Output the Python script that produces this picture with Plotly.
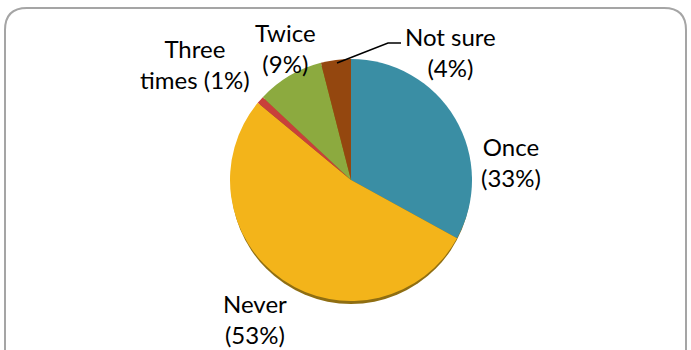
import plotly.graph_objects as go

# Survey answers, clockwise from 12 o'clock
labels = ["Once", "Never", "Three times", "Twice", "Not sure"]
values = [33, 53, 1, 9, 4]
colors = ["#3A8EA4", "#F3B41A", "#C8403B", "#8CAA3F", "#94470F"]

# Two text lines per slice label
label_lines = [
    ("Once", f"({values[0]}%)"),
    ("Never", f"({values[1]}%)"),
    ("Three", f"times ({values[2]}%)"),
    ("Twice", f"({values[3]}%)"),
    ("Not sure", f"({values[4]}%)"),
]
# Label block centres in pixels
label_pos = [(511, 162), (255, 319), (195, 64), (285, 48), (450, 52)]

W, H = 691, 350
cx, cy, r = 351, 180, 121


def px(x):
    return x / W


def py(y):
    return 1 - y / H


fig = go.Figure(
    go.Pie(
        labels=labels,
        values=values,
        marker=dict(colors=colors, line=dict(width=0)),
        sort=False,
        direction="clockwise",
        rotation=0,
        textinfo="none",
        hoverinfo="label+percent",
        showlegend=False,
        domain=dict(x=[px(cx - r), px(cx + r)], y=[py(cy + r), py(cy - r)]),
    )
)

shapes = []
# Rounded frame around the chart
x0, x1, y0, y1, rc = 5, 686, 8, 372, 22
path = (
    f"M {px(x0 + rc)},{py(y0)} L {px(x1 - rc)},{py(y0)} "
    f"Q {px(x1)},{py(y0)} {px(x1)},{py(y0 + rc)} "
    f"L {px(x1)},{py(y1 - rc)} Q {px(x1)},{py(y1)} {px(x1 - rc)},{py(y1)} "
    f"L {px(x0 + rc)},{py(y1)} Q {px(x0)},{py(y1)} {px(x0)},{py(y1 - rc)} "
    f"L {px(x0)},{py(y0 + rc)} Q {px(x0)},{py(y0)} {px(x0 + rc)},{py(y0)} Z"
)
shapes.append(dict(type="path", xref="paper", yref="paper", path=path,
                   line=dict(color="#A5A5A5", width=2), fillcolor="rgba(0,0,0,0)",
                   layer="below"))
# Darker rim under the pie for a slight 3D edge
shapes.append(dict(type="circle", xref="paper", yref="paper",
                   x0=px(cx - r + 1), x1=px(cx + r - 1),
                   y0=py(cy + r + 3), y1=py(cy - r + 3),
                   fillcolor="#8F6E12", line=dict(width=0), layer="below"))
# Leader line for "Not sure"
shapes.append(dict(type="path", xref="paper", yref="paper",
                   path=f"M {px(337)},{py(63)} L {px(388)},{py(43)} L {px(401)},{py(43)}",
                   line=dict(color="black", width=1.5)))

annotations = []
for (l1, l2), (x, y) in zip(label_lines, label_pos):
    annotations.append(dict(
        x=px(x), y=py(y), xref="paper", yref="paper",
        text=f"{l1}<br>{l2}", showarrow=False, align="center",
        xanchor="center", yanchor="middle",
        font=dict(family="Lato", size=24, color="black"),
    ))

fig.update_layout(
    width=W, height=H,
    margin=dict(l=0, r=0, t=0, b=0),
    paper_bgcolor="white",
    plot_bgcolor="white",
    shapes=shapes,
    annotations=annotations,
)

fig.write_html("out.html")
